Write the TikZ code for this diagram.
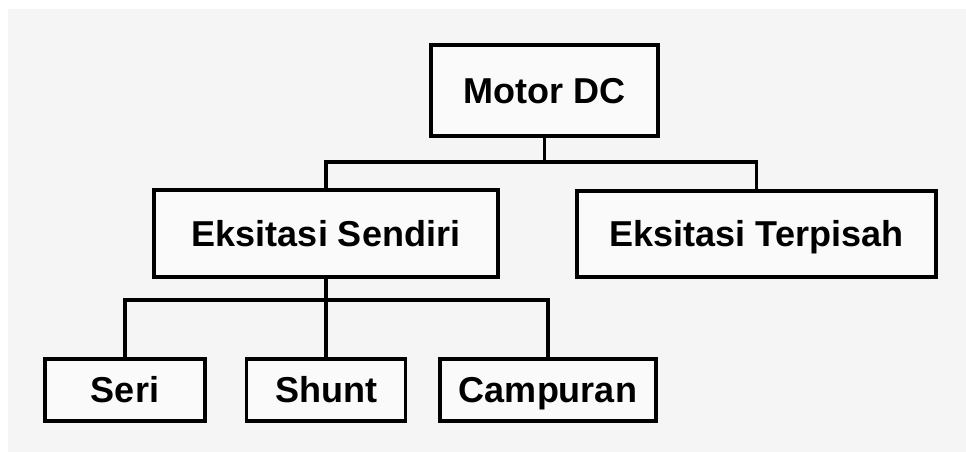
\documentclass[tikz,border=0pt]{standalone}
\usepackage{fontspec}
\setmainfont{Liberation Sans}
\definecolor{panel}{HTML}{F5F5F5}
\definecolor{boxfill}{HTML}{FAFAFA}
\begin{document}
\begin{tikzpicture}[x=1pt,y=-1pt,
  unit/.style={draw=black, line width=3.6pt, fill=boxfill, rectangle,
    inner sep=0pt, text height=25.5pt, text depth=0pt,
    font=\fontsize{36}{40}\selectfont\bfseries},
  link/.style={draw=black, line width=3.2pt}]
  % page and panel
  \fill[white] (0,0) rectangle (966,452);
  \fill[panel] (8,9) rectangle (966,452);
  \useasboundingbox (0,0) rectangle (966,452);

  % boxes
  \node[unit, minimum width=227pt, minimum height=91pt] (mdc) at (544.5,90.5) {Motor DC};
  \node[unit, minimum width=344pt, minimum height=87pt] (sendiri) at (326,233.5) {Eksitasi Sendiri};
  \node[unit, minimum width=359pt, minimum height=86pt] (terpisah) at (756.5,234) {Eksitasi Terpisah};
  \node[unit, minimum width=160pt, minimum height=62pt] (seri) at (125,390) {Seri};
  \node[unit, minimum width=159pt, minimum height=62pt] (shunt) at (326,390) {Shunt};
  \node[unit, minimum width=216pt, minimum height=62pt] (campuran) at (548,390) {Campuran};

  % junction levels
  \coordinate (busA) at (544.5,162);
  \coordinate (busB) at (326,300);

  % upper branch
  \draw[link] (mdc.south) -- (busA);
  \draw[link] (sendiri.north) |- (busA) -| (terpisah.north);

  % lower branch
  \draw[link] (sendiri.south) -- (shunt.north);
  \draw[link] (seri.north) |- (busB) -| (campuran.north);
\end{tikzpicture}
\end{document}
